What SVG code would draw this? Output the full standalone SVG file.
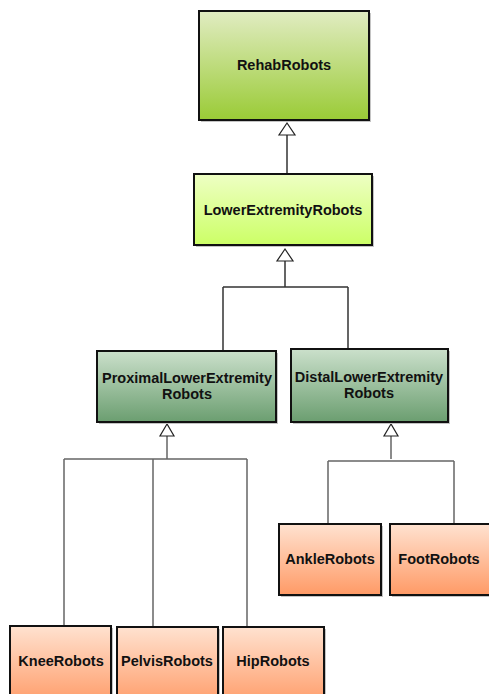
<svg xmlns="http://www.w3.org/2000/svg" width="489" height="694" viewBox="0 0 489 694">
<defs>
<linearGradient id="gRehab" x1="0" y1="0" x2="0" y2="1"><stop offset="0" stop-color="#e1ecc2"/><stop offset="1" stop-color="#9acb36"/></linearGradient>
<linearGradient id="gLower" x1="0" y1="0" x2="0" y2="1"><stop offset="0" stop-color="#eeffc4"/><stop offset="1" stop-color="#ccff66"/></linearGradient>
<linearGradient id="gGreen" x1="0" y1="0" x2="0" y2="1"><stop offset="0" stop-color="#cbe0cb"/><stop offset="1" stop-color="#6b9e70"/></linearGradient>
<linearGradient id="gOrange" x1="0" y1="0" x2="0" y2="1"><stop offset="0" stop-color="#ffe2d0"/><stop offset="1" stop-color="#ff9a66"/></linearGradient>
</defs>
<style>
.box{stroke:#111;stroke-width:2}
.sh{fill:#c4c4c4}
.lbl{font-family:"Liberation Sans",Arial,sans-serif;font-weight:bold;font-size:14.5px;fill:#111;text-anchor:middle}
.ln{stroke:#333;stroke-width:1.5;fill:none}
.lg{stroke:#666;stroke-width:1.5;fill:none}
.tri{fill:#fff;stroke:#222;stroke-width:1.2}
</style>
<g id="connectors">
<line class="ln" x1="287" y1="135" x2="287" y2="173"/>
<polygon class="tri" points="287,123 279,135 295,135"/>
<path class="ln" d="M285,261 V287 M223,287 H348 M223,287 V351 M348,287 V349"/>
<polygon class="tri" points="285,249 277,261 293,261"/>
<path class="lg" d="M167,436 V459 M64,459 H247 M64,459 V626 M153,459 V627 M247,459 V627"/>
<polygon class="tri" points="167,424 160,436 174,436"/>
<path class="lg" d="M391,436 V459 M328,461 H454 M328,461 V524 M454,461 V524"/>
<polygon class="tri" points="391,424 384,436 398,436"/>
</g>
<g id="RehabRobots">
<rect class="sh" x="201" y="13" width="170" height="109"/>
<rect class="box" x="199" y="11" width="170" height="109" fill="url(#gRehab)"/>
<text class="lbl" x="284" y="70">RehabRobots</text>
</g>
<g id="LowerExtremityRobots">
<rect class="sh" x="196" y="176" width="178" height="71"/>
<rect class="box" x="194" y="174" width="178" height="71" fill="url(#gLower)"/>
<text class="lbl" x="283" y="215">LowerExtremityRobots</text>
</g>
<g id="ProximalLowerExtremityRobots">
<rect class="sh" x="99" y="353" width="179" height="71"/>
<rect class="box" x="97" y="351" width="179" height="71" fill="url(#gGreen)"/>
<text class="lbl" x="187" y="383">ProximalLowerExtremity</text>
<text class="lbl" x="187" y="399">Robots</text>
</g>
<g id="DistalLowerExtremityRobots">
<rect class="sh" x="293" y="351" width="157" height="73"/>
<rect class="box" x="291" y="349" width="157" height="73" fill="url(#gGreen)"/>
<text class="lbl" x="369" y="382">DistalLowerExtremity</text>
<text class="lbl" x="369" y="398">Robots</text>
</g>
<g id="AnkleRobots">
<rect class="sh" x="281" y="526" width="102" height="71"/>
<rect class="box" x="279" y="524" width="102" height="71" fill="url(#gOrange)"/>
<text class="lbl" x="330" y="564">AnkleRobots</text>
</g>
<g id="FootRobots">
<rect class="sh" x="392" y="526" width="100" height="71"/>
<rect class="box" x="390" y="524" width="100" height="71" fill="url(#gOrange)"/>
<text class="lbl" x="439" y="564">FootRobots</text>
</g>
<g id="KneeRobots">
<rect class="sh" x="12" y="628" width="101" height="80"/>
<rect class="box" x="10" y="626" width="101" height="80" fill="url(#gOrange)"/>
<text class="lbl" x="61" y="666">KneeRobots</text>
</g>
<g id="PelvisRobots">
<rect class="sh" x="119" y="629" width="101" height="80"/>
<rect class="box" x="117" y="627" width="101" height="80" fill="url(#gOrange)"/>
<text class="lbl" x="167" y="666">PelvisRobots</text>
</g>
<g id="HipRobots">
<rect class="sh" x="225" y="629" width="101" height="80"/>
<rect class="box" x="223" y="627" width="101" height="80" fill="url(#gOrange)"/>
<text class="lbl" x="273" y="666">HipRobots</text>
</g>
</svg>
